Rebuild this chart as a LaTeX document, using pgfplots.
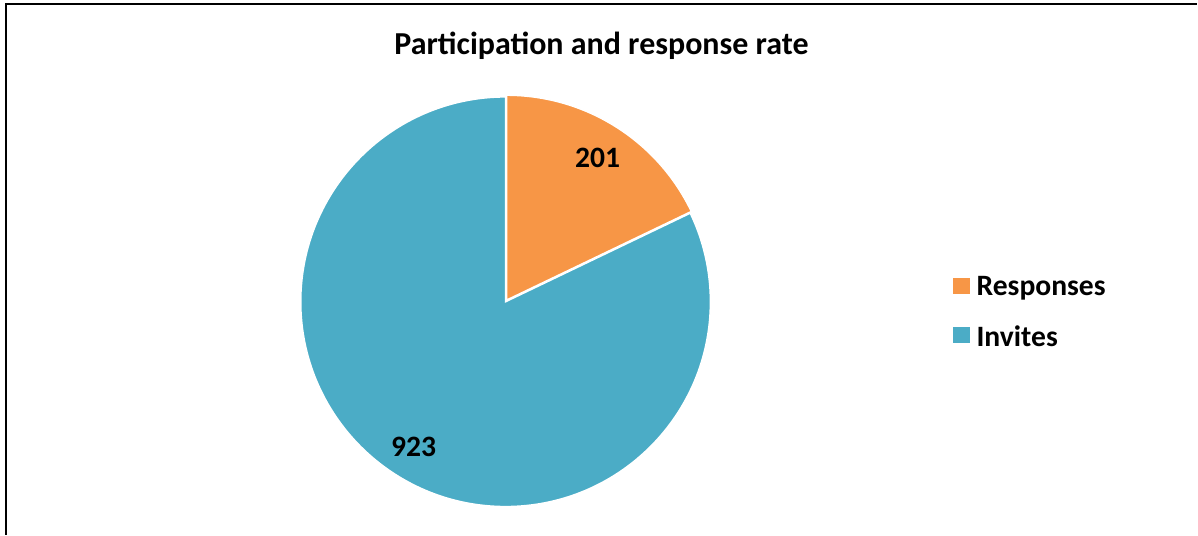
\documentclass[border=0pt]{standalone}
\usepackage{fontspec}
\setmainfont{Carlito}
\usepackage{pgfplots}
\usepackage{pgfplotstable}
\pgfplotsset{compat=1.18}
\definecolor{resp}{HTML}{F79646}
\definecolor{inv}{HTML}{4BACC6}
\pgfplotstableread{
label value
Responses 201
Invites 923
}\piedata
\begin{document}
\begin{tikzpicture}
\pgfplotstablegetelem{0}{value}\of\piedata \let\vResp\pgfplotsretval
\pgfplotstablegetelem{1}{value}\of\piedata \let\vInv\pgfplotsretval
\pgfmathsetmacro\fResp{\vResp/(\vResp+\vInv)}
\pgfmathsetmacro\aResp{360*\fResp}
\pgfmathsetmacro\sResp{90-\aResp}
\pgfmathsetmacro\mResp{90-\aResp/2}
\pgfmathsetmacro\eInv{450-\aResp}
\begin{axis}[scale only axis, width=599pt, height=267.5pt,
  xmin=0, xmax=1198, ymin=0, ymax=535, hide axis, clip=false]
\path (axis cs:0,0) rectangle (axis cs:1198,535);
\draw[line width=1pt, black] (axis cs:6,0) -- (axis cs:6,531) -- (axis cs:1198,531);
\fill[inv, draw=white, line width=0.75pt] (axis cs:506,233) -- ++(90:102.5pt)
  arc[start angle=90, end angle=\eInv, radius=102.5pt] -- cycle;
\fill[resp, draw=white, line width=0.75pt, shift={(\mResp:1pt)}] (axis cs:506,233) -- ++(\sResp:102.5pt)
  arc[start angle=\sResp, end angle=90, radius=102.5pt] -- cycle;
\node[font=\bfseries\fontsize{14.8}{17}\selectfont] at (axis cs:598,377) {\vResp};
\node[font=\bfseries\fontsize{14.8}{17}\selectfont] at (axis cs:414,88) {\vInv};
\node[font=\bfseries\fontsize{16}{19}\selectfont] at (axis cs:602,489) {Participation and response rate};
\fill[resp] (axis cs:954,241) rectangle (axis cs:971,257);
\fill[inv] (axis cs:954,192) rectangle (axis cs:971,208);
\node[anchor=west, inner sep=0pt, font=\bfseries\fontsize{14.8}{17}\selectfont] at (axis cs:977,247) {Responses};
\node[anchor=west, inner sep=0pt, font=\bfseries\fontsize{14.8}{17}\selectfont] at (axis cs:977,198) {Invites};
\end{axis}
\end{tikzpicture}
\end{document}
